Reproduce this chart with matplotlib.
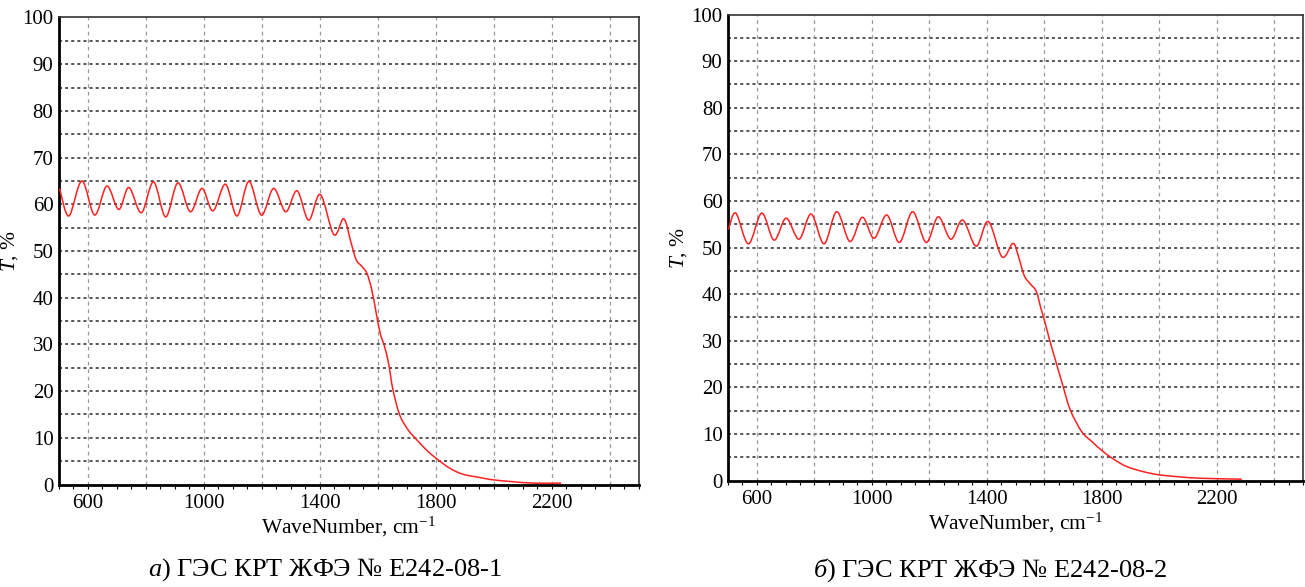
import matplotlib
matplotlib.use('Agg')
import matplotlib.pyplot as plt
from matplotlib.path import Path
from matplotlib.patches import PathPatch
from matplotlib.ticker import MultipleLocator, FixedLocator

plt.rcParams['font.family'] = ['Liberation Serif', 'DejaVu Serif']
plt.rcParams['mathtext.fontset'] = 'custom'
plt.rcParams['mathtext.rm'] = 'Liberation Serif'
plt.rcParams['mathtext.it'] = 'Liberation Serif:italic'

# panel a) (extrema of the fringes + the absorption edge)
wn_a = [502, 534, 579, 623, 665, 706, 741, 784, 826, 868, 910, 953, 993, 1031,
        1074, 1114, 1155, 1198, 1240, 1282, 1321, 1361, 1401, 1448, 1482, 1508,
        1525, 1543, 1562, 1579, 1594, 1608, 1623, 1637, 1652, 1675, 1704, 1732,
        1767, 1801, 1847, 1893, 1951, 1997, 2066, 2134, 2232]
t_a = [63.4, 57.5, 65.0, 57.7, 63.9, 58.9, 63.6, 58.2, 64.8, 57.3, 64.6, 58.4,
       63.4, 58.6, 64.3, 57.5, 64.9, 57.7, 63.4, 58.4, 62.9, 56.6, 62.1, 53.5,
       56.9, 51.6, 48.1, 46.8, 45.2, 41.6, 36.7, 32.3, 29.5, 25.8, 20.2, 14.9,
       11.7, 9.7, 7.4, 5.6, 3.5, 2.2, 1.5, 1.0, 0.6, 0.3, 0.3]

# panel б)
wn_b = [501, 527, 571, 617, 660, 702, 747, 789, 834, 878, 924, 967, 1008, 1052,
        1096, 1142, 1189, 1231, 1275, 1316, 1363, 1405, 1453, 1491, 1510, 1530,
        1550, 1572, 1588, 1603, 1617, 1637, 1664, 1690, 1730, 1765, 1805, 1846,
        1887, 1945, 2003, 2072, 2142, 2287]
t_b = [53.9, 57.4, 50.8, 57.4, 51.6, 56.3, 51.8, 57.2, 50.8, 57.7, 51.3, 56.5,
       52.0, 57.0, 51.1, 57.7, 51.1, 56.6, 51.8, 55.9, 50.3, 55.6, 48.0, 50.9,
       48.1, 44.0, 42.3, 40.6, 37.0, 33.8, 30.5, 26.2, 20.5, 15.2, 10.5, 8.4,
       6.2, 4.4, 3.0, 1.9, 1.2, 0.8, 0.5, 0.3]

x_ticks = [600, 1000, 1400, 1800, 2200]
y_ticks = list(range(0, 101, 10))
captions = ['$а$) ГЭС КРТ ЖФЭ № E242-08-1', '$б$) ГЭС КРТ ЖФЭ № E242-08-2']


def smooth_path(xs, ys):
    # Catmull-Rom through the read points, drawn as cubic Bezier segments
    n = len(xs)
    verts = [(xs[0], ys[0])]
    codes = [Path.MOVETO]
    for i in range(n - 1):
        p0 = (xs[max(i - 1, 0)], ys[max(i - 1, 0)])
        p1 = (xs[i], ys[i])
        p2 = (xs[i + 1], ys[i + 1])
        p3 = (xs[min(i + 2, n - 1)], ys[min(i + 2, n - 1)])
        c1 = (p1[0] + (p2[0] - p0[0]) / 6, p1[1] + (p2[1] - p0[1]) / 6)
        c2 = (p2[0] - (p3[0] - p1[0]) / 6, p2[1] - (p3[1] - p1[1]) / 6)
        verts += [c1, c2, p2]
        codes += [Path.CURVE4] * 3
    return Path(verts, codes)


fig = plt.figure(figsize=(13.05, 5.87), dpi=100)
ax_a = fig.add_axes([0.0452, 0.1746, 0.4444, 0.7956])
ax_b = fig.add_axes([0.5579, 0.1813, 0.4406, 0.7939])

for ax, wn, t, cap, cx in [(ax_a, wn_a, t_a, captions[0], 0.249),
                           (ax_b, wn_b, t_b, captions[1], 0.759)]:
    ax.set_xlim(500, 2500)
    ax.set_ylim(0, 100)
    ax.add_patch(PathPatch(smooth_path(wn, t), facecolor='none',
                           edgecolor='#ff2020', lw=1.1, zorder=3))

    # grid: dark dotted horizontals every 5, light dashed verticals every 200
    for yv in range(5, 100, 5):
        ax.axhline(yv, color='#2a2a2a', lw=1.1, ls=(0, (2, 2)), zorder=1)
    for xv in range(600, 2500, 200):
        ax.axvline(xv, color='#9a9a9a', lw=0.9, ls=(0, (3, 3)), zorder=1)

    ax.xaxis.set_major_locator(FixedLocator(x_ticks))
    ax.xaxis.set_minor_locator(MultipleLocator(50))
    ax.tick_params(axis='x', which='both', direction='out', length=3,
                   width=0.8, labelsize=15, pad=4)
    ax.set_yticks(y_ticks)
    ax.tick_params(axis='y', length=0, labelsize=15, pad=4)

    for s in ['left', 'bottom']:
        ax.spines[s].set_linewidth(2.0)
        ax.spines[s].set_color('black')
    for s in ['top', 'right']:
        ax.spines[s].set_linewidth(1.2)
        ax.spines[s].set_color('#333333')

    ax.set_xlabel('WaveNumber, cm$^{\\mathrm{-1}}$', fontsize=15.5, labelpad=1)
    ax.set_ylabel('$T$, %', fontsize=15.5, labelpad=2)
    fig.text(cx, 0.029, cap, fontsize=19, ha='center', va='center')

plt.savefig('out.png', dpi=100)
